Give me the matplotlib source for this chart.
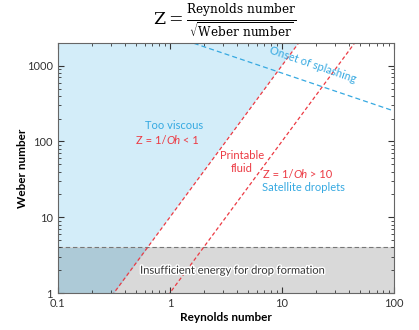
import numpy as np
import matplotlib.pyplot as plt
import matplotlib.patheffects as pe

# chart values
re_grid = np.array([0.1, 100.0])
lim_re = [0.1, 100]
lim_we = [1, 2000]
viscous_coef = 10.0      # We = 10 Re^2  (Z = 1/Oh = 1 boundary)
satellite_coef = 1.0     # We = Re^2     (Z = 1/Oh = 10 boundary)
splash_k = 2530.0        # We = K / sqrt(Re)
we_min = 4.0             # insufficient energy threshold
xticks = [0.1, 1, 10, 100]
xtick_labels = ['0.1', '1', '10', '100']
yticks = [1, 10, 100, 1000]
ytick_labels = ['1', '10', '100', '1000']

plt.rcParams['font.family'] = ['Lato', 'DejaVu Sans']

fig = plt.figure(figsize=(4.19, 3.30), dpi=100)
ax = fig.add_axes([0.138, 0.112, 0.802, 0.758])
ax.set_xscale('log')
ax.set_yscale('log')
ax.set_xlim(lim_re)
ax.set_ylim(lim_we)

red = '#ec3a43'
blue = '#36a9e1'

re = np.logspace(-1, 2, 400)
# too viscous region (left of first red line)
ax.fill_between(re, viscous_coef * re**2, lim_we[1], color='#d3edf9', zorder=0, lw=0)
# insufficient energy band
ax.fill_between(re, lim_we[0], we_min, color='#d9d9d9', zorder=0.5, lw=0)
ax.fill_between(re, np.maximum(viscous_coef * re**2, lim_we[0]), we_min,
                where=re <= np.sqrt(we_min / viscous_coef) * 1.01,
                color='#adcad7', zorder=0.6, lw=0)
ax.axhline(we_min, color='#777777', ls=(0, (4, 2.5)), lw=0.8, zorder=1)

ax.plot(re_grid, viscous_coef * re_grid**2, color=red, ls=(0, (3, 2)), lw=0.9, zorder=2)
ax.plot(re_grid, satellite_coef * re_grid**2, color=red, ls=(0, (3, 2)), lw=0.9, zorder=2)
ax.plot(re, splash_k / np.sqrt(re), color=blue, ls=(0, (4, 2.5)), lw=0.9, zorder=2)


def oh_label(x, y, left, right):
    # "Z = 1/Oh ..." with italic Oh, built from three pieces
    t1 = ax.text(x, y, left, color=red, ha='right', va='center', fontsize=fs)
    t2 = ax.annotate('Oh', xy=(1, 0.5), xycoords=t1, va='center', ha='left',
                     color=red, fontsize=fs, style='italic')
    ax.annotate(right, xy=(1, 0.5), xycoords=t2, va='center', ha='left', color=red, fontsize=fs)


fs = 8
ax.text(1.1, 162, 'Too viscous', color=blue, ha='center', va='center', fontsize=fs)
oh_label(0.93, 103, 'Z = 1/', ' < 1')
ax.text(4.4, 53, 'Printable\nfluid', color=red, ha='center', va='center', fontsize=fs, linespacing=1.2)
oh_label(12.6, 37, 'Z = 1/', ' > 10')
ax.text(15.5, 24.8, 'Satellite droplets', color=blue, ha='center', va='center', fontsize=fs)
# splashing label sits just above its line, anchored by its centre
ax.text(19, 1020, 'Onset of splashing', color=blue, ha='center', va='center', fontsize=fs,
        rotation=-19, rotation_mode='anchor')
ax.text(3.65, 2.0, 'Insufficient energy for drop formation', color='#333333', ha='center', va='center',
        fontsize=fs, path_effects=[pe.withStroke(linewidth=2, foreground='white')])

ax.set_xticks(xticks)
ax.set_xticklabels(xtick_labels)
ax.set_yticks(yticks)
ax.set_yticklabels(ytick_labels)
ax.tick_params(which='both', direction='in', top=True, right=True, labelsize=8, colors='#333333')
ax.tick_params(which='major', length=4, width=0.8)
ax.tick_params(which='minor', length=2.5, width=0.6)
for s in ax.spines.values():
    s.set_color('#666666')
    s.set_linewidth(0.8)

ax.set_xlabel('Reynolds number', fontsize=8.5, fontweight='bold', labelpad=2)
ax.set_ylabel('Weber number', fontsize=8.5, fontweight='bold', labelpad=-1)

fig.text(0.537, 0.935, r'$\mathrm{Z} = \frac{\mathrm{Reynolds\ number}}{\sqrt{\mathrm{Weber\ number}}}$',
         ha='center', va='center', fontsize=12.5, math_fontfamily='dejavuserif')

fig.savefig('out.png', dpi=100)
